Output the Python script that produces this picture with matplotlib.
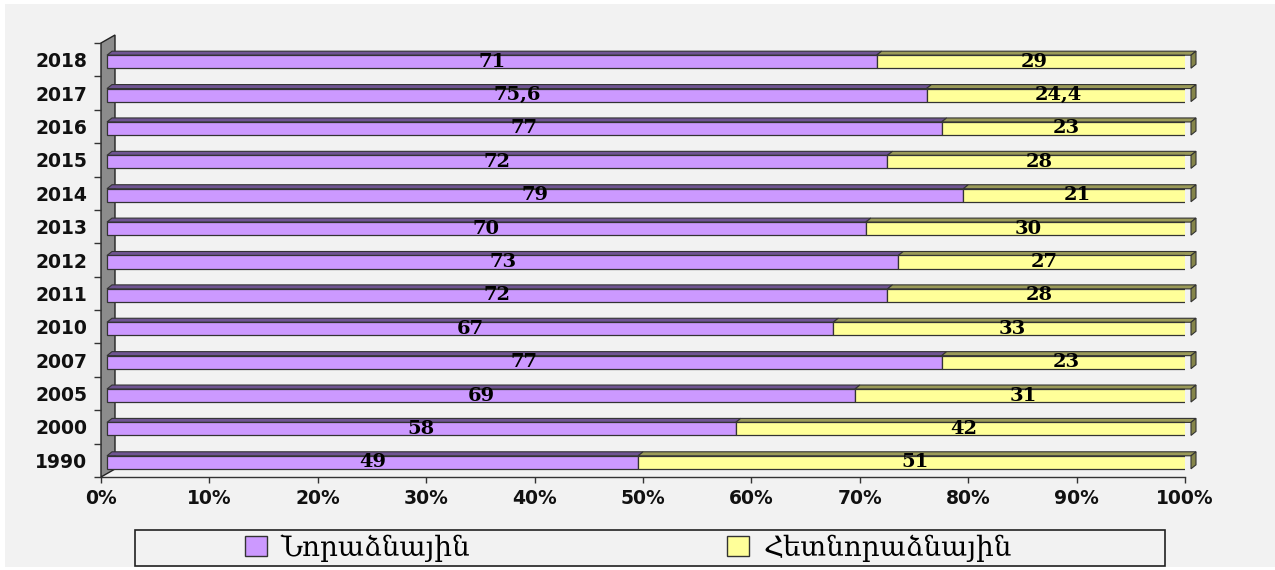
import matplotlib
matplotlib.use("Agg")
import matplotlib.pyplot as plt
import numpy as np
from matplotlib.patches import Polygon, Rectangle, Patch
from matplotlib.transforms import ScaledTranslation

years = ["1990", "2000", "2005", "2007", "2010", "2011", "2012",
         "2013", "2014", "2015", "2016", "2017", "2018"]
new_share = [49, 58, 69, 77, 67, 72, 73, 70, 79, 72, 77, 75.6, 71]
old_share = [51, 42, 31, 23, 33, 28, 27, 30, 21, 28, 23, 24.4, 29]
series_names = ["Նորաձնային", "Հետնորաձնային"]
x_ticks = [0, 10, 20, 30, 40, 50, 60, 70, 80, 90, 100]

W, H = 1275, 570
DPI = 100
fig = plt.figure(figsize=(W / DPI, H / DPI), dpi=DPI, facecolor="white")

# light grey chart area
fig.patches.append(Rectangle((5 / W, 1 - 567 / H), 1 - 5 / W, (567 - 4) / H,
                             transform=fig.transFigure, facecolor="#f2f2f2",
                             edgecolor="none", zorder=-10))

ax = fig.add_axes([101 / W, 1 - 477 / H, (1185 - 101) / W, (477 - 43) / H])
ax.set_xlim(0, 100)
ax.set_ylim(-0.5, len(years) - 0.5)
ax.patch.set_visible(False)

px_x = 100 / ((1185 - 101))          # data units per pixel along x
px_y = len(years) / (477 - 43)       # data units per pixel along y

for s in ["top", "right", "left"]:
    ax.spines[s].set_visible(False)
ax.spines["bottom"].set_color("#333333")
ax.spines["bottom"].set_linewidth(1.0)

# side wall
wdx, wdy = 14 * px_x, 8 * px_y
y0, y1 = -0.5, len(years) - 0.5
wall = Polygon([(0, y0), (0, y1), (wdx, y1 + wdy), (wdx, y0 + wdy)],
               closed=True, facecolor="#8c8c8c", edgecolor="#222222",
               linewidth=1.0, clip_on=False, zorder=1)
ax.add_patch(wall)

# bars are drawn slightly in front of the wall
tr = ax.transData + ScaledTranslation(6 / DPI, -2 / DPI, fig.dpi_scale_trans)

ypos = np.arange(len(years))
bh = 0.39
new_col, new_top = "#cc99ff", "#6f5492"
old_col, old_top, old_side = "#ffff99", "#9a9a58", "#85854a"
edge = "#333333"

ax.barh(ypos, new_share, height=bh, color=new_col, edgecolor=edge,
        linewidth=0.9, transform=tr, zorder=3)
ax.barh(ypos, old_share, left=new_share, height=bh, color=old_col,
        edgecolor=edge, linewidth=0.9, transform=tr, zorder=3)

ddx, ddy = 5 * px_x, 4 * px_y
for i, (a, b) in enumerate(zip(new_share, old_share)):
    yt = i + bh / 2
    for x0, x1, c in [(0, a, new_top), (a, a + b, old_top)]:
        ax.add_patch(Polygon([(x0, yt), (x1, yt), (x1 + ddx, yt + ddy),
                              (x0 + ddx, yt + ddy)], closed=True,
                             facecolor=c, edgecolor=edge, linewidth=0.8,
                             transform=tr, clip_on=False, zorder=2.9))
    xe = a + b
    ax.add_patch(Polygon([(xe, i - bh / 2), (xe, yt), (xe + ddx, yt + ddy),
                          (xe + ddx, i - bh / 2 + ddy)], closed=True,
                         facecolor=old_side, edgecolor=edge, linewidth=0.8,
                         transform=tr, clip_on=False, zorder=2.9))
    for x0, v in [(0, a), (a, b)]:
        ax.text(x0 + v / 2, i, f"{v:g}".replace(".", ","), transform=tr,
                ha="center", va="center", fontsize=14, fontweight="bold",
                family="DejaVu Serif", color="black", zorder=5)

# axis ticks
ax.set_yticks(np.arange(-0.5, len(years), 1.0))
ax.set_yticklabels([])
ax.tick_params(axis="y", which="major", length=5, width=1.0, color="#333333",
               direction="out")
ax.set_yticks(ypos, minor=True)
ax.set_yticklabels(years, minor=True, fontsize=13.5, fontweight="bold",
                   family="DejaVu Sans", color="#111111")
ax.tick_params(axis="y", which="minor", length=0, pad=10)

ax.set_xticks(x_ticks)
ax.set_xticklabels([f"{t}%" for t in x_ticks], fontsize=13.5,
                   fontweight="bold", family="DejaVu Sans", color="#111111")
ax.tick_params(axis="x", length=4.5, width=1.0, color="#333333", pad=4)

# legend box
fig.patches.append(Rectangle((135 / W, 1 - 566 / H), (1165 - 135) / W, 36 / H,
                             transform=fig.transFigure, facecolor="none",
                             edgecolor="#222222", linewidth=1.2, zorder=5))
cols = [new_col, old_col]
starts = [245, 727]
for name, c, x in zip(series_names, cols, starts):
    leg = fig.legend([Patch(facecolor=c, edgecolor=edge, linewidth=1.0)],
                     [name], loc="center left",
                     bbox_to_anchor=(x / W, 1 - 548 / H), frameon=False,
                     prop={"family": "DejaVu Serif", "size": 20},
                     handlelength=0.8, handleheight=0.75, handletextpad=0.5,
                     borderpad=0, borderaxespad=0)

fig.savefig("out.png", dpi=DPI, facecolor=fig.get_facecolor())
